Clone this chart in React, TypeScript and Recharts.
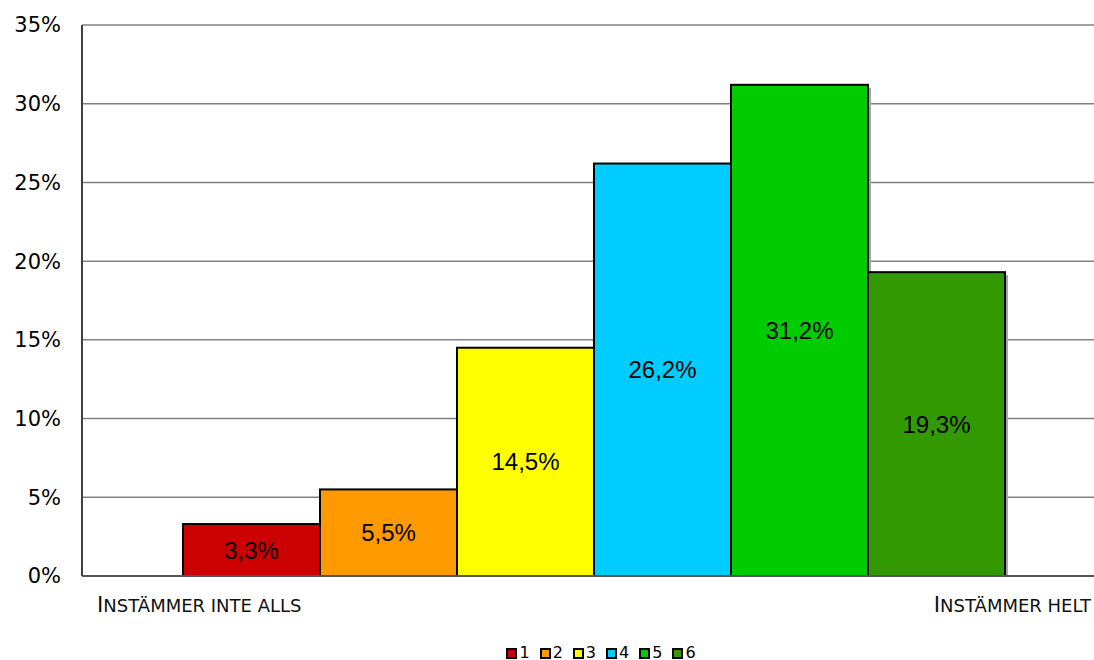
import React from 'react';
import { BarChart, Bar, XAxis, YAxis, CartesianGrid, LabelList, Legend, Label } from 'recharts';

const categories = ['Svar'];
const seriesNames = ['1', '2', '3', '4', '5', '6'];
const seriesValues = [3.3, 5.5, 14.5, 26.2, 31.2, 19.3];
const seriesColors = ['#CC0000', '#FF9900', '#FFFF00', '#00CCFF', '#00CC00', '#339900'];
const yTicks = [0, 5, 10, 15, 20, 25, 30, 35];
const scaleLabels = ['Instämmer inte alls', 'Instämmer helt'];

const data = categories.map((c) => {
  const row: Record<string, string | number> = { category: c };
  seriesNames.forEach((n, i) => {
    row['s' + n] = seriesValues[i];
  });
  return row;
});

const fmtPct = (v: any) => Number(v).toFixed(1).replace('.', ',') + '%';

const BarShape = (props: any) => {
  const { x, y, width, height, fill } = props;
  if (!height || height <= 0) return null;
  return (
    <g>
      <rect x={x + width} y={y + 3} width={3} height={Math.max(0, height - 3)} fill="#a6a6a6" />
      <rect x={x} y={y} width={width} height={height} fill={fill} stroke="#000" strokeWidth={2} />
    </g>
  );
};

const SmallCaps = ({ text, x, y, anchor }: { text: string; x: number; y: number; anchor: 'start' | 'end' }) => (
  <text x={x} y={y} textAnchor={anchor} fontFamily="DejaVu Sans" fill="#111">
    <tspan fontSize={21.5}>{text.charAt(0)}</tspan>
    <tspan fontSize={18} style={{ textTransform: 'uppercase' }}>{text.slice(1)}</tspan>
  </text>
);

const AxisEndLabels = (props: any) => {
  const vb = props.viewBox || {};
  const x0 = vb.x ?? 82;
  const w = vb.width ?? 1012;
  const y0 = vb.y ?? 576;
  return (
    <g>
      <SmallCaps text={scaleLabels[0]} x={x0 + 15} y={y0 + 36} anchor="start" />
      <SmallCaps text={scaleLabels[1]} x={x0 + w - 3} y={y0 + 36} anchor="end" />
    </g>
  );
};

const LegendContent = () => (
  <div
    style={{
      height: 24,
      paddingTop: 10,
      boxSizing: 'border-box',
      display: 'flex',
      justifyContent: 'center',
      alignItems: 'center',
      fontFamily: 'DejaVu Sans',
      fontSize: 16,
      color: '#000',
      paddingLeft: 108,
    }}
  >
    {seriesNames.map((n, i) => (
      <div key={n} style={{ display: 'flex', alignItems: 'center', marginRight: i < seriesNames.length - 1 ? 10 : 0 }}>
        <div
          style={{
            width: 11,
            height: 11,
            boxSizing: 'border-box',
            background: seriesColors[i],
            border: '2px solid #000',
            marginRight: 2,
          }}
        />
        <span style={{ fontSize: 16, lineHeight: '14px', fontFamily: 'DejaVu Sans' }}>{n}</span>
      </div>
    ))}
  </div>
);

export default function App() {
  return (
    <div style={{ position: 'absolute', left: 0, top: 0, width: 1094, height: 660, background: '#fff' }}>
      <BarChart
        width={1094}
        height={660}
        data={data}
        margin={{ top: 25, right: 0, left: 0, bottom: 0 }}
        barGap={0}
        barCategoryGap={0}
      >
        <CartesianGrid vertical={false} stroke="#808080" strokeWidth={1.5} />
        <XAxis
          dataKey="category"
          tick={false}
          tickLine={false}
          height={60}
          padding={{ left: 12, right: 0 }}
          axisLine={{ stroke: '#555', strokeWidth: 2 }}
        >
          <Label content={AxisEndLabels} />
        </XAxis>
        <YAxis
          width={82}
          domain={[0, 35]}
          ticks={yTicks}
          interval={0}
          tickFormatter={(v: number) => v + '%'}
          tickLine={false}
          tickMargin={15}
          axisLine={{ stroke: '#404040', strokeWidth: 2 }}
          tick={{ fill: '#000', fontSize: 21, fontFamily: 'DejaVu Sans' }}
        />
        <Legend verticalAlign="bottom" content={LegendContent} />
        {seriesNames.map((n, i) => (
          <Bar
            key={n}
            dataKey={'s' + n}
            name={n}
            fill={seriesColors[i]}
            barSize={137}
            shape={BarShape}
            isAnimationActive={false}
          >
            <LabelList
              dataKey={'s' + n}
              position="center"
              formatter={fmtPct}
              fill="#000"
              fontSize={24}
              fontFamily="Liberation Sans"
            />
          </Bar>
        ))}
      </BarChart>
    </div>
  );
}
